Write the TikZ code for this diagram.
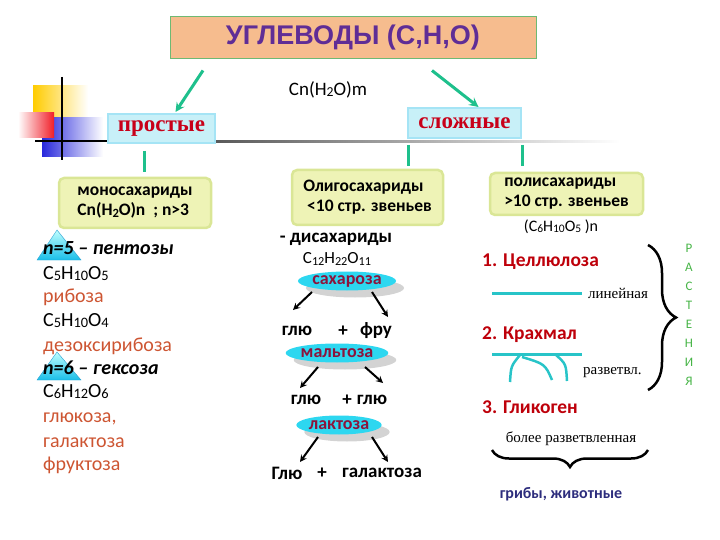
\documentclass[tikz,border=0pt]{standalone}
\usepackage{fontspec}
\usepackage{graphicx}
\setmainfont{Carlito}
\newfontfamily\titlefont{Liberation Sans}
\newfontfamily\romfont{Liberation Serif}
\usetikzlibrary{calc,shapes.geometric,shadows,decorations.pathreplacing}
\definecolor{peach}{RGB}{246,188,142}
\definecolor{titleedge}{RGB}{110,185,115}
\definecolor{titleink}{RGB}{95,45,150}
\definecolor{linkgreen}{RGB}{30,192,140}
\definecolor{kindfill}{RGB}{200,240,248}
\definecolor{kindedge}{RGB}{165,228,245}
\definecolor{kindink}{RGB}{200,0,25}
\definecolor{classfill}{RGB}{238,243,182}
\definecolor{classedge}{RGB}{218,230,150}
\definecolor{sugarink}{RGB}{205,85,50}
\definecolor{trifill}{RGB}{25,190,232}
\definecolor{triedge}{RGB}{40,160,210}
\definecolor{ovalfill}{RGB}{45,215,240}
\definecolor{ovalink}{RGB}{140,20,60}
\definecolor{chaincol}{RGB}{40,196,200}
\definecolor{polyink}{RGB}{190,0,10}
\definecolor{plantink}{RGB}{70,180,70}
\definecolor{fungiink}{RGB}{45,45,125}
\definecolor{ornyellow}{RGB}{255,204,0}
\definecolor{ornred}{RGB}{240,30,40}
\definecolor{ornblue}{RGB}{40,40,220}
\newcommand{\ix}[1]{\raisebox{-.15ex}{\scalebox{.72}{#1}}}
\begin{document}
\begin{tikzpicture}[x=1pt,y=-1pt,>=stealth,
  titlebox/.style={draw=titleedge,line width=1pt,fill=peach,minimum width=366pt,minimum height=42pt,
    text=titleink,font=\titlefont\bfseries\fontsize{27}{30}\selectfont},
  kindbox/.style={draw=kindedge,line width=2pt,fill=kindfill,inner sep=0pt,text=kindink,
    font=\romfont\bfseries\fontsize{23}{26}\selectfont},
  classbox/.style={draw=classedge,line width=2.5pt,fill=classfill,rounded corners=5pt,align=left,
    inner sep=1pt,font=\bfseries\fontsize{17.5}{20}\selectfont},
  link/.style={draw=linkgreen,line width=3pt},
  gonext/.style={->,draw=linkgreen,line width=3pt},
  split/.style={->,line width=2pt},
  col/.style={anchor=west,inner sep=0pt,text height=13pt,text depth=4pt,font=\fontsize{20}{24}\selectfont},
  kind/.style={col,font=\bfseries\itshape\fontsize{20}{24}\selectfont},
  sugar/.style={col,text=sugarink},
  mid/.style={inner sep=0pt,font=\bfseries\fontsize{19}{22}\selectfont},
  oval/.style={ellipse,fill=ovalfill,inner sep=0pt,minimum height=19pt,text=ovalink,
    font=\bfseries\fontsize{18}{20}\selectfont,drop shadow={shadow xshift=8pt,shadow yshift=-7pt,fill=gray,opacity=.35}},
  chain/.style={draw=chaincol,line width=3pt},
  polyname/.style={anchor=west,inner sep=0pt,text=polyink,font=\bfseries\fontsize{19.5}{22}\selectfont},
  note/.style={inner sep=0pt,font=\romfont\fontsize{15}{18}\selectfont},
  plant/.style={inner sep=0pt,text=plantink,font=\fontsize{13}{15}\selectfont},
  curly/.style={decorate,line width=2.5pt}]
\useasboundingbox (0,0) rectangle (720,540);

% corner ornament
\shade[left color=ornyellow,right color=white] (33,86) rectangle (88,117);
\shade[left color=ornblue,right color=white] (42,118) rectangle (103,157);
\shade[left color=white,right color=ornred] (18,113) rectangle (54,138);
\draw[line width=2.5pt] (62,77) -- (62,160);
\draw[line width=2.5pt] (35,141) -- (108,141);
\shade[left color=black!65,right color=white] (215,140.5) rectangle (620,142.5);

% title and the two kinds
\node[titlebox] (title) at (353,38) {УГЛЕВОДЫ (C,H,O)};
\node[font=\fontsize{19}{22}\selectfont] (formula) at (328,90) {Cn(H\ix{2}O)m};
\node[kindbox,minimum width=107pt,minimum height=29pt] (prost) at (161.5,128.5) {простые};
\node[kindbox,minimum width=113pt,minimum height=30pt] (slozh) at (464.5,123) {сложные};
\draw[gonext] ($(title.south)+(-150,11)$) -- ($(prost.north)+(14,-1)$);
\draw[gonext] ($(title.south)+(79,11)$) -- ($(slozh.north)+(14,0)$);

% classes
\node[classbox,minimum width=152pt,minimum height=50pt] (mono) at (135,203) {моносахариды\\Cn(H\ix{2}O)n \ ; n>3};
\node[classbox,minimum width=151pt,minimum height=55pt] (oligo) at (367.5,197.5) {Олигосахариды\\\ <10 стр. звеньев};
\node[classbox,minimum width=153pt,minimum height=42pt] (poly) at (566.5,194) {полисахариды\\>10 стр. звеньев};
\node[font=\fontsize{16}{18}\selectfont] (polyf) at (561,227) {(C\ix{6}H\ix{10}O\ix{5} )n};
\draw[link] ($(prost.south)+(-17.5,7)$) -- ($(mono.north)+(9,-5)$);
\draw[link] ($(slozh.south)+(-56.5,6)$) -- ($(oligo.north)+(40.5,-3)$);
\draw[link] ($(slozh.south)+(57.5,6)$) -- ($(poly.north)+(-44.5,-6)$);

% monosaccharides
\shade[top color=cyan!25,bottom color=trifill,draw=triedge] (37,260) -- (57,230) -- (81,260) -- cycle;
\shade[top color=cyan!25,bottom color=trifill,draw=triedge] (37,380) -- (57,352) -- (81,380) -- cycle;
\node[kind] (pent) at (43,250) {n=5 – пентозы};
\node[col] (fribose) at (43,275) {C\ix{5}H\ix{10}O\ix{5}};
\node[sugar] (ribose) at (43,298) {рибоза};
\node[col] (fdeoxy) at (43,322) {C\ix{5}H\ix{10}O\ix{4}};
\node[sugar] (deoxy) at (43,347) {дезоксирибоза};
\node[kind] (hex) at (43,370) {n=6 – гексоза};
\node[col] (fhex) at (43,393) {C\ix{6}H\ix{12}O\ix{6}};
\node[sugar] (gluc) at (43,418) {глюкоза,};
\node[sugar] (galac) at (43,443) {галактоза};
\node[sugar] (fruc) at (43,466) {фруктоза};

% disaccharides
\node[mid] (disah) at (336,239) {- дисахариды};
\node[inner sep=0pt,font=\fontsize{17}{20}\selectfont] (c12) at (337,259) {C\ix{12}H\ix{22}O\ix{11}};
\node[oval,minimum width=87pt] (sah) at (347,281) {сахароза};
\node[mid] (glu1) at (297,331) {глю};
\node[mid] (plus1) at (343,331) {+};
\node[mid] (fru) at (376,331) {фру};
\draw[split] ($(sah)+(-35,11)$) -- ($(glu1)+(-4,-21)$);
\draw[split] ($(sah)+(25,11)$) -- ($(fru)+(12,-14)$);
\node[oval,minimum width=89pt] (malt) at (337,353) {мальтоза};
\node[mid] (glu2) at (306,400) {глю};
\node[mid] (plus2) at (347,400) {+};
\node[mid] (glu3) at (372,400) {глю};
\draw[split] ($(malt)+(-19,14)$) -- ($(glu2)+(-6,-12)$);
\draw[split] ($(malt)+(28,14)$) -- ($(glu3)+(11,-17)$);
\node[oval,minimum width=82pt] (lakt) at (339,425) {лактоза};
\node[mid] (glu4) at (287,473) {Глю};
\node[mid] (plus3) at (322,473) {+};
\node[mid] (galakt) at (382,473) {галактоза};
\draw[split] ($(lakt)+(-21,12)$) -- ($(glu4)+(13,-11)$);
\draw[split] ($(lakt)+(33,12)$) -- ($(galakt)+(6,-11)$);

% polysaccharides
\node[polyname] (cell) at (482,262) {1. Целлюлоза};
\draw[chain] (492,293) -- (582,293);
\node[note,anchor=west] (lin) at (588,293) {линейная};
\node[polyname] (starch) at (482,335) {2. Крахмал};
\draw[chain] (492,354) -- (582,354);
\draw[chain,line width=2.5pt] (520,355) .. controls (511,366) .. (510,382);
\draw[chain,line width=2.5pt] (522,357) .. controls (545,364) .. (552,380);
\draw[chain,line width=2.5pt] (556,355) .. controls (566,364) .. (567,381);
\node[note,anchor=west] (branch) at (583,373) {разветвл.};
\node[polyname] (glyc) at (482,407) {3. Гликоген};
\node[note] (more) at (571,439) {более разветвленная};
\draw[curly,decoration={brace,amplitude=17pt}] (648,450) -- (492,450);
\node[inner sep=0pt,text=fungiink,font=\bfseries\fontsize{16}{18}\selectfont] (fungi) at (561,494) {грибы, животные};
\draw[curly,decoration={brace,amplitude=28pt}] (648,245) -- (648,390);
\foreach \ch [count=\i] in {Р,А,С,Т,Е,Н,И,Я}
  \node[plant] (plant\i) at (689,{229+19*\i}) {\ch};
\end{tikzpicture}
\end{document}
